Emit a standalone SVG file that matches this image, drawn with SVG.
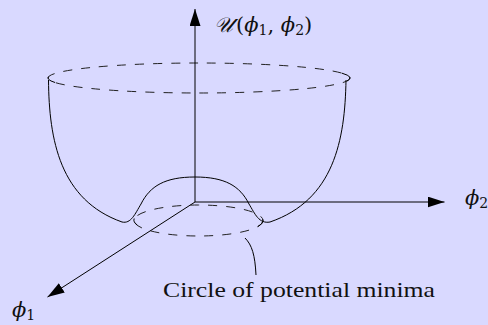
<svg xmlns="http://www.w3.org/2000/svg" width="488" height="325" viewBox="0 0 488 325">
<style>
.bg{fill:#d9d9ff}
.ln{fill:none;stroke:#000;stroke-width:1}
.ds{fill:none;stroke:#222;stroke-width:1;stroke-dasharray:9 9}
.t{font-family:"DejaVu Serif","Liberation Serif",serif;font-size:21px;fill:#111}
.it{font-style:italic}
.sub{font-size:14px}
.cap{font-family:"Liberation Serif","DejaVu Serif",serif;font-size:21px;fill:#111}
</style>
<defs>
<marker id="ah" markerUnits="userSpaceOnUse" markerWidth="18" markerHeight="12" refX="17" refY="5.5" orient="auto">
<path d="M0,0 L17,5.5 L0,11 z" fill="#000"/>
</marker>
</defs>
<rect class="bg" width="488" height="325"/>
<g id="bowl">
<ellipse class="ds" cx="199" cy="78" rx="151" ry="15"/>
<path class="ln" d="M49,76.3 A151 15 0 0 0 55,82.5"/>
<path class="ln" d="M342,73.2 A151 15 0 0 1 347,81"/>
<path class="ln" d="M48.5,80 C49,140 60,200 122,222 C131,224 135,214 141,204 C150,186 165,177 195,177 C225,177 240,186 249,204 C255,214 259,224 270,222 C334,200 345,140 346,80"/>
</g>
<g id="minima-circle">
<ellipse class="ds" cx="198.5" cy="220.5" rx="64.5" ry="15.5"/>
<path class="ln" d="M134.2,218.5 A64.5 15.5 0 0 0 137.5,225.2"/>
<path class="ln" d="M262.8,219.3 A64.5 15.5 0 0 1 258,226.5"/>
</g>
<g id="connectors">
<line class="ln" x1="195" y1="202" x2="195" y2="9" marker-end="url(#ah)"/>
<line class="ln" x1="195" y1="202" x2="444.5" y2="202" marker-end="url(#ah)"/>
<line class="ln" x1="195" y1="202" x2="47.5" y2="297" marker-end="url(#ah)"/>
<path class="ln" d="M245,238 C252,245 255,255 256,275"/>
</g>
<g id="label-U">
<text class="t" x="214" y="32"><tspan class="it">𝒰</tspan><tspan dx="3">(</tspan><tspan class="it">ϕ</tspan><tspan class="sub" dy="3">1</tspan><tspan dy="-3">, </tspan><tspan class="it">ϕ</tspan><tspan class="sub" dy="3">2</tspan><tspan dy="-3">)</tspan></text>
</g>
<g id="label-phi2">
<text class="t" x="465" y="205"><tspan class="it">ϕ</tspan><tspan class="sub" dy="3">2</tspan></text>
</g>
<g id="label-phi1">
<text class="t" x="12" y="317"><tspan class="it">ϕ</tspan><tspan class="sub" dy="3">1</tspan></text>
</g>
<g id="label-circle">
<text class="cap" x="163" y="297" textLength="272" lengthAdjust="spacingAndGlyphs">Circle of potential minima</text>
</g>
</svg>
